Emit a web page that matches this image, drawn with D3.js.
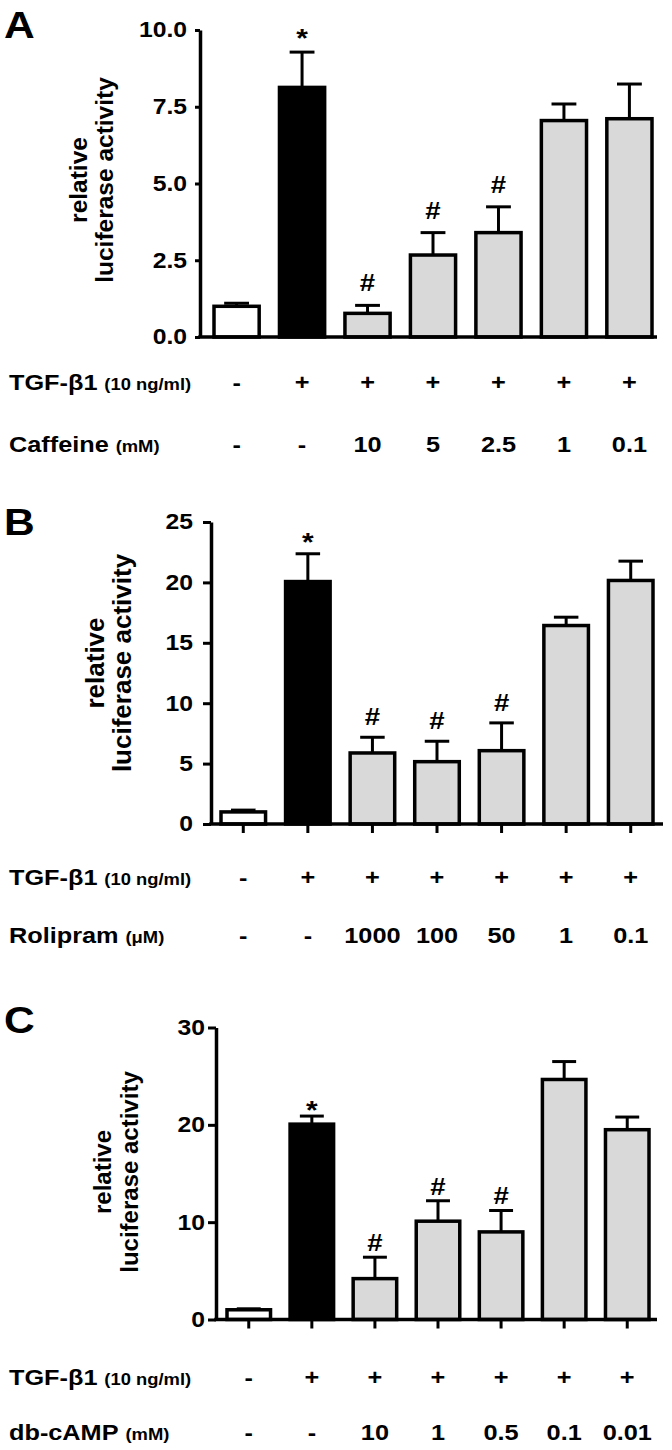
<!DOCTYPE html>
<html>
<head>
<meta charset="utf-8">
<script src="https://cdn.jsdelivr.net/npm/d3@7"></script>
<style>
  html, body { margin: 0; padding: 0; background: #fff; }
  svg { display: block; }
  text { font-family: "Liberation Sans", Arial, Helvetica, sans-serif; font-weight: bold; fill: #000; }
</style>
</head>
<body>
<svg id="chart" width="672" height="1450"></svg>
<script>
// ---------------- DATA ----------------
const conditions = [0, 1, 2, 3, 4, 5, 6];
const tgfRow = ["-", "+", "+", "+", "+", "+", "+"];

const caffeineDoses = ["-", "-", "10", "5", "2.5", "1", "0.1"];
const caffeineMeans = [1.0, 8.13, 0.77, 2.67, 3.40, 7.05, 7.11];
const caffeineErrors = [0.1, 1.15, 0.26, 0.73, 0.84, 0.54, 1.13];
const caffeineMarks = ["", "*", "#", "#", "#", "", ""];
const caffeineTicks = [0, 2.5, 5, 7.5, 10];

const rolipramDoses = ["-", "-", "1000", "100", "50", "1", "0.1"];
const rolipramMeans = [1.0, 20.07, 5.88, 5.16, 6.07, 16.43, 20.16];
const rolipramErrors = [0.15, 2.3, 1.3, 1.69, 2.3, 0.69, 1.6];
const rolipramMarks = ["", "*", "#", "#", "#", "", ""];
const rolipramTicks = [0, 5, 10, 15, 20, 25];

const dbcampDoses = ["-", "-", "10", "1", "0.5", "0.1", "0.01"];
const dbcampMeans = [1.0, 20.07, 4.2, 10.1, 9.0, 24.66, 19.5];
const dbcampErrors = [0.1, 0.83, 2.2, 2.1, 2.2, 1.84, 1.3];
const dbcampMarks = ["", "*", "#", "#", "#", "", ""];
const dbcampTicks = [0, 10, 20, 30];

// ---------------- LAYOUT ----------------
const panels = [
  { letter: "A", letterY: 38, means: caffeineMeans, errors: caffeineErrors, marks: caffeineMarks,
    ticks: caffeineTicks, yMax: 10, fmt: d3.format(".1f"),
    y0: 337, yTop: 30, axisX: 200, xEnd: 657, barL: 214, barR: 652,
    tickLen: 5, tickPad: 8, xTicks: false, markGap: 14,
    titleCy: 180, titleX1: 87, titleX2: 113, titleSize: 24.5,
    drug: "Caffeine", unit: "(mM)", doses: caffeineDoses, row1Y: 390, row2Y: 452 },
  { letter: "B", letterY: 535, means: rolipramMeans, errors: rolipramErrors, marks: rolipramMarks,
    ticks: rolipramTicks, yMax: 25, fmt: d3.format("d"),
    y0: 824, yTop: 522, axisX: 211, xEnd: 663, barL: 221, barR: 653,
    tickLen: 8, tickPad: 10, xTicks: true, markGap: 12,
    titleCy: 663, titleX1: 104, titleX2: 131, titleSize: 26,
    drug: "Rolipram", unit: "(μM)", doses: rolipramDoses, row1Y: 885, row2Y: 943 },
  { letter: "C", letterY: 1033, means: dbcampMeans, errors: dbcampErrors, marks: dbcampMarks,
    ticks: dbcampTicks, yMax: 30, fmt: d3.format("d"),
    y0: 1319.5, yTop: 1027.5, axisX: 216, xEnd: 657, barL: 227, barR: 649,
    tickLen: 8, tickPad: 3, xTicks: true, markGap: 6,
    titleCy: 1172, titleX1: 111, titleX2: 138, titleSize: 24,
    drug: "db-cAMP", unit: "(mM)", doses: dbcampDoses, row1Y: 1385, row2Y: 1440 }
];

const sx = 1.15; // horizontal stretch of the figure's lettering
const fillFor = i => i === 0 ? "#ffffff" : (i === 1 ? "#000000" : "#d9d9d9");

const svg = d3.select("#chart");
svg.append("rect").attr("width", 672).attr("height", 1450).attr("fill", "#fff");

function placeText(parent, x, y) {
  return parent.append("text").attr("transform", `translate(${x},${y}) scale(${sx},1)`);
}

panels.forEach(p => {
  const g = svg.append("g");
  const ys = d3.scaleLinear().domain([0, p.yMax]).range([p.y0, p.yTop]);
  const xs = d3.scaleBand().domain(conditions).range([p.barL, p.barR]).paddingInner(0.31).paddingOuter(0);
  const bw = xs.bandwidth();
  const capW = bw * 0.55;

  // panel letter
  placeText(g, 4, p.letterY).attr("font-size", 37).text(p.letter);

  // y-axis title
  const title = g.append("g").attr("font-size", p.titleSize).attr("text-anchor", "middle");
  title.append("text").attr("transform", `translate(${p.titleX1},${p.titleCy}) rotate(-90)`).text("relative");
  title.append("text").attr("transform", `translate(${p.titleX2},${p.titleCy}) rotate(-90)`).text("luciferase activity");

  // error bars (drawn behind bars)
  const eb = g.append("g").attr("stroke", "#000").attr("fill", "none").attr("stroke-width", 3);
  conditions.forEach(i => {
    const cx = xs(i) + bw / 2;
    const top = ys(p.means[i] + p.errors[i]);
    eb.append("line").attr("x1", cx).attr("x2", cx).attr("y1", ys(p.means[i])).attr("y2", top);
    eb.append("line").attr("x1", cx - capW / 2).attr("x2", cx + capW / 2).attr("y1", top).attr("y2", top);
  });

  // bars
  g.append("g").selectAll("rect").data(conditions).join("rect")
    .attr("x", i => xs(i))
    .attr("y", i => ys(p.means[i]))
    .attr("width", bw)
    .attr("height", i => ys(0) - ys(p.means[i]))
    .attr("fill", i => fillFor(i))
    .attr("stroke", "#000")
    .attr("stroke-width", 3.5);

  // significance marks
  const mg = g.append("g").attr("text-anchor", "middle");
  conditions.filter(i => p.marks[i]).forEach(i => {
    const star = p.marks[i] === "*";
    placeText(mg, xs(i) + bw / 2, ys(p.means[i] + p.errors[i]) - p.markGap + (star ? 9 : 0))
      .attr("font-size", star ? 26 : 24).text(p.marks[i]);
  });

  // y axis
  const yAxis = d3.axisLeft(ys).tickValues(p.ticks).tickFormat(p.fmt)
    .tickSize(p.tickLen).tickPadding(p.tickPad).tickSizeOuter(0);
  const ya = g.append("g").attr("transform", `translate(${p.axisX},0)`).call(yAxis);
  ya.select(".domain").attr("stroke", "#000").attr("stroke-width", 3.5);
  ya.selectAll(".tick line").attr("stroke", "#000").attr("stroke-width", 3);
  ya.selectAll(".tick text").attr("font-size", 21.5).attr("font-family", null).attr("fill", "#000")
    .attr("x", -(p.tickLen + p.tickPad) / sx).attr("transform", `scale(${sx},1)`);

  // x axis line
  const xLine = d3.scaleLinear().domain([0, 1]).range([p.axisX - 1.75, p.xEnd]);
  g.append("line").attr("x1", xLine(0)).attr("x2", xLine(1)).attr("y1", p.y0).attr("y2", p.y0)
    .attr("stroke", "#000").attr("stroke-width", 3.5);

  if (p.xTicks) {
    const xa = g.append("g").attr("transform", `translate(0,${p.y0})`)
      .call(d3.axisBottom(xs).tickSize(9).tickFormat(""));
    xa.select(".domain").remove();
    xa.selectAll(".tick line").attr("stroke", "#000").attr("stroke-width", 3);
  }

  // condition rows
  const r1 = placeText(g, 9, p.row1Y).attr("font-size", 22);
  r1.append("tspan").text("TGF-β1");
  r1.append("tspan").attr("font-size", 16).attr("dx", 6).text("(10 ng/ml)");
  const r2 = placeText(g, 9, p.row2Y).attr("font-size", 22);
  r2.append("tspan").text(p.drug);
  r2.append("tspan").attr("font-size", 16).attr("dx", 6).text(p.unit);

  const rowG = g.append("g").attr("text-anchor", "middle").attr("font-size", 22);
  conditions.forEach(i => {
    placeText(rowG, xs(i) + bw / 2, p.row1Y).text(tgfRow[i]);
    placeText(rowG, xs(i) + bw / 2, p.row2Y).text(p.doses[i]);
  });
});
</script>
</body>
</html>
